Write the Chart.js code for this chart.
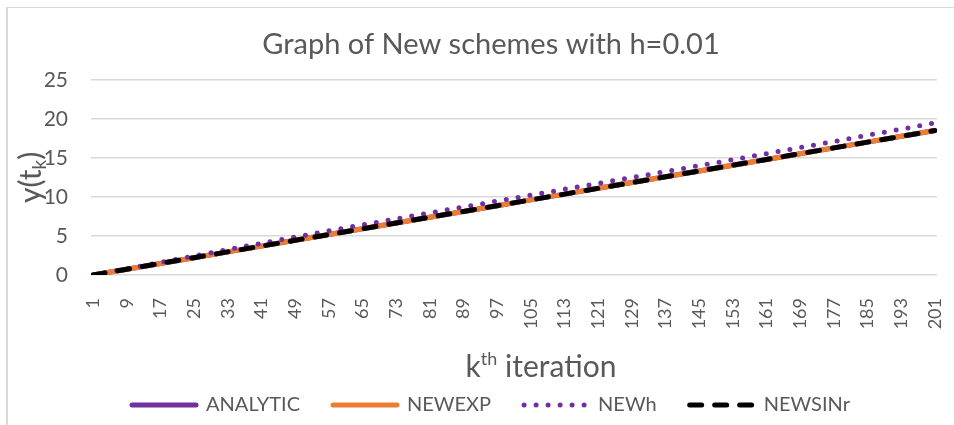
<!DOCTYPE html>
<html>
<head>
<meta charset="utf-8">
<title>Graph of New schemes with h=0.01</title>
<script src="https://cdn.jsdelivr.net/npm/chart.js@4.4.0/dist/chart.umd.min.js"></script>
<style>
  html, body { margin: 0; padding: 0; background: #fff; }
  #wrap { width: 954px; height: 425px; position: relative; }
</style>
</head>
<body>
<div id="wrap"><canvas id="newChart"></canvas></div>
<script>
// k values (every 8th iteration = the x tick labels)
const iterations = [1, 9, 17, 25, 33, 41, 49, 57, 65, 73, 81, 89, 97, 105, 113, 121, 129, 137, 145, 153, 161, 169, 177, 185, 193, 201];
const yTicks = [0, 5, 10, 15, 20, 25];

// series values at those k
const analytic = [0, 0.74, 1.48, 2.22, 2.96, 3.70, 4.44, 5.18, 5.92, 6.66, 7.40, 8.14, 8.88, 9.62, 10.36, 11.10, 11.84, 12.58, 13.32, 14.06, 14.80, 15.54, 16.28, 17.02, 17.76, 18.50];
const newExp = [0, 0.74, 1.48, 2.22, 2.96, 3.70, 4.44, 5.18, 5.92, 6.66, 7.40, 8.14, 8.88, 9.62, 10.36, 11.10, 11.84, 12.58, 13.32, 14.06, 14.80, 15.54, 16.28, 17.02, 17.76, 18.50];
const newH = [0, 0.80, 1.62, 2.44, 3.26, 4.06, 4.86, 5.66, 6.42, 7.18, 7.96, 8.72, 9.46, 10.22, 10.98, 11.74, 12.48, 13.24, 14.00, 14.76, 15.54, 16.32, 17.10, 17.90, 18.68, 19.48];
const newSinR = [0, 0.74, 1.48, 2.22, 2.96, 3.70, 4.44, 5.18, 5.92, 6.66, 7.40, 8.14, 8.88, 9.62, 10.36, 11.10, 11.84, 12.58, 13.32, 14.06, 14.80, 15.54, 16.28, 17.02, 17.76, 18.50];

const FONT = 'Lato, "Noto Sans", sans-serif';
const TEXT = '#595959';

Chart.defaults.font.family = FONT;
Chart.defaults.color = TEXT;

function points(values) {
    return iterations.map((k, i) => ({ x: k, y: values[i] }));
}

// draws text made of pieces with different sizes / baseline shifts (sub & superscripts)
function drawRich(ctx, parts, cx, baseline) {
    let total = 0;
    parts.forEach(p => {
        ctx.font = p.size + 'px ' + FONT;
        p.w = ctx.measureText(p.text).width;
        total += p.w;
    });
    let x = cx - total / 2;
    parts.forEach(p => {
        ctx.font = p.size + 'px ' + FONT;
        ctx.fillText(p.text, x, baseline + p.shift);
        x += p.w;
    });
}

// frame lines and the two axis titles
const chartDecor = {
    id: 'chartDecor',
    beforeDraw(chart) {
        const ctx = chart.ctx;
        ctx.save();
        ctx.fillStyle = '#ffffff';
        ctx.fillRect(0, 0, chart.width, chart.height);
        ctx.strokeStyle = '#d9d9d9';
        ctx.lineWidth = 2;
        ctx.beginPath();
        ctx.moveTo(7, 7);
        ctx.lineTo(7, chart.height);
        ctx.stroke();
        ctx.lineWidth = 1;
        ctx.beginPath();
        ctx.moveTo(6, 7.5);
        ctx.lineTo(chart.width, 7.5);
        ctx.stroke();
        ctx.restore();
    },
    afterDraw(chart) {
        const ctx = chart.ctx;
        const area = chart.chartArea;
        ctx.save();
        ctx.fillStyle = TEXT;
        ctx.textAlign = 'left';
        ctx.textBaseline = 'alphabetic';

        // x axis title: k^th iteration
        drawRich(ctx, [
            { text: 'k', size: 30, shift: 0 },
            { text: 'th', size: 18, shift: -12 },
            { text: ' iteration', size: 30, shift: 0 }
        ], (area.left + area.right) / 2 + 27, area.bottom + 102);

        // y axis title: y(t_k)
        ctx.translate(area.left - 57, (area.top + area.bottom) / 2);
        ctx.rotate(-Math.PI / 2);
        drawRich(ctx, [
            { text: 'y(t', size: 30, shift: 0 },
            { text: 'k', size: 19, shift: 5 },
            { text: ')', size: 30, shift: 0 }
        ], 0, 7);
        ctx.restore();
    }
};

const ctx = document.getElementById('newChart').getContext('2d');
const newChart = new Chart(ctx, {
    type: 'line',
    data: {
        datasets: [
            {
                label: 'ANALYTIC',
                data: points(analytic),
                borderColor: '#7030A0',
                backgroundColor: '#7030A0',
                borderWidth: 5,
                order: 4
            },
            {
                label: 'NEWEXP',
                data: points(newExp),
                borderColor: '#ED7D31',
                backgroundColor: '#ED7D31',
                borderWidth: 5,
                order: 3
            },
            {
                label: 'NEWh',
                data: points(newH),
                borderColor: '#7030A0',
                backgroundColor: '#7030A0',
                borderWidth: 5,
                borderDash: [0, 12],
                borderCapStyle: 'round',
                order: 2
            },
            {
                label: 'NEWSINr',
                data: points(newSinR),
                borderColor: '#000000',
                backgroundColor: '#000000',
                borderWidth: 5,
                borderDash: [12, 13],
                borderCapStyle: 'round',
                order: 1
            }
        ]
    },
    options: {
        responsive: true,
        maintainAspectRatio: false,
        animation: false,
        events: [],
        layout: {
            padding: { left: 45, right: 17, top: 9, bottom: 0 }
        },
        elements: {
            point: { radius: 0 },
            line: { tension: 0, fill: false }
        },
        plugins: {
            title: {
                display: true,
                text: 'Graph of New schemes with h=0.01',
                color: TEXT,
                font: { size: 29, weight: 'normal' },
                padding: { top: 18, bottom: 18 }
            },
            legend: {
                position: 'bottom',
                labels: {
                    usePointStyle: true,
                    pointStyleWidth: 64,
                    color: TEXT,
                    font: { size: 20 },
                    padding: 33,
                    // legend samples drawn as short lines in each series' own style
                    generateLabels: (chart) => chart.data.datasets.map((ds, i) => ({
                        text: ds.label,
                        datasetIndex: i,
                        pointStyle: 'line',
                        fillStyle: ds.borderColor,
                        strokeStyle: ds.borderColor,
                        lineWidth: ds.borderWidth,
                        lineDash: ds.borderDash || [],
                        lineCap: 'round',
                        fontColor: TEXT,
                        hidden: false
                    }))
                }
            },
            tooltip: { enabled: false }
        },
        scales: {
            x: {
                type: 'linear',
                min: 0.5,
                max: 201.5,
                grid: { display: false },
                border: { display: false },
                afterBuildTicks: (scale) => {
                    scale.ticks = iterations.map(v => ({ value: v }));
                },
                afterFit: (scale) => {
                    scale.paddingLeft = 0;
                    scale.paddingRight = 0;
                    scale.height = 87;
                },
                ticks: {
                    autoSkip: false,
                    minRotation: 90,
                    maxRotation: 90,
                    padding: 15,
                    color: TEXT,
                    font: { size: 18 },
                    callback: (value) => String(value)
                }
            },
            y: {
                min: 0,
                max: 25,
                afterBuildTicks: (scale) => {
                    scale.ticks = yTicks.map(v => ({ value: v }));
                },
                afterFit: (scale) => {
                    scale.width = 46;
                },
                grid: { color: '#d9d9d9', lineWidth: 1.5, drawTicks: false },
                border: { display: false },
                ticks: {
                    padding: 23,
                    color: TEXT,
                    font: { size: 21 }
                }
            }
        }
    },
    plugins: [chartDecor]
});
</script>
</body>
</html>
